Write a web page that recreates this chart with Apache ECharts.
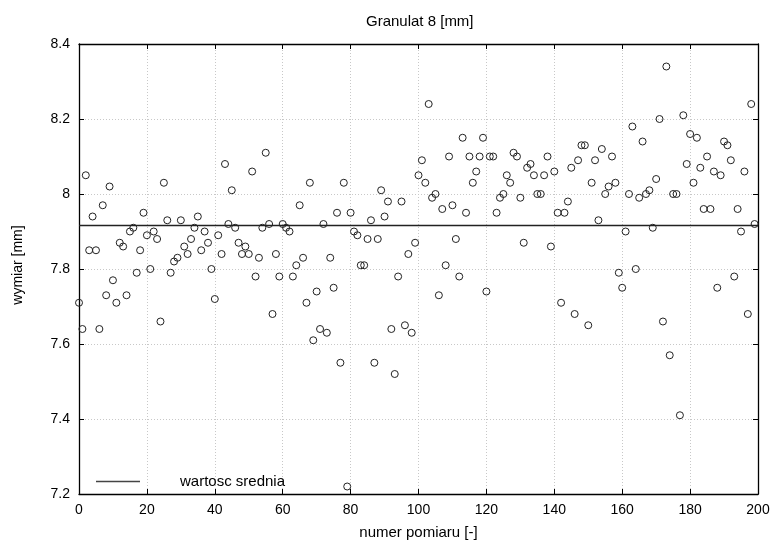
<!DOCTYPE html>
<html>
<head>
<meta charset="utf-8">
<script src="https://cdn.jsdelivr.net/npm/echarts@6/dist/echarts.min.js"></script>
<style>
html,body{margin:0;padding:0;background:#fff;}
#chart{width:774px;height:545px;}
</style>
</head>
<body>
<div id="chart"></div>
<script>
const titleText = 'Granulat 8 [mm]';
const xName = 'numer pomiaru [-]';
const yName = 'wymiar [mm]';
const legendLabel = 'wartosc srednia';
const xTicks = [0, 20, 40, 60, 80, 100, 120, 140, 160, 180, 200];
const yTicks = [7.2, 7.4, 7.6, 7.8, 8.0, 8.2, 8.4];
const meanValue = [7.916];
const values = [
  7.71, 7.64, 8.05, 7.85, 7.94, 7.85, 7.64, 7.97, 7.73, 8.02,
  7.77, 7.71, 7.87, 7.86, 7.73, 7.90, 7.91, 7.79, 7.85, 7.95,
  7.89, 7.80, 7.90, 7.88, 7.66, 8.03, 7.93, 7.79, 7.82, 7.83,
  7.93, 7.86, 7.84, 7.88, 7.91, 7.94, 7.85, 7.90, 7.87, 7.80,
  7.72, 7.89, 7.84, 8.08, 7.92, 8.01, 7.91, 7.87, 7.84, 7.86,
  7.84, 8.06, 7.78, 7.83, 7.91, 8.11, 7.92, 7.68, 7.84, 7.78,
  7.92, 7.91, 7.90, 7.78, 7.81, 7.97, 7.83, 7.71, 8.03, 7.61,
  7.74, 7.64, 7.92, 7.63, 7.83, 7.75, 7.95, 7.55, 8.03, 7.22,
  7.95, 7.90, 7.89, 7.81, 7.81, 7.88, 7.93, 7.55, 7.88, 8.01,
  7.94, 7.98, 7.64, 7.52, 7.78, 7.98, 7.65, 7.84, 7.63, 7.87,
  8.05, 8.09, 8.03, 8.24, 7.99, 8.00, 7.73, 7.96, 7.81, 8.10,
  7.97, 7.88, 7.78, 8.15, 7.95, 8.10, 8.03, 8.06, 8.10, 8.15,
  7.74, 8.10, 8.10, 7.95, 7.99, 8.00, 8.05, 8.03, 8.11, 8.10,
  7.99, 7.87, 8.07, 8.08, 8.05, 8.00, 8.00, 8.05, 8.10, 7.86,
  8.06, 7.95, 7.71, 7.95, 7.98, 8.07, 7.68, 8.09, 8.13, 8.13,
  7.65, 8.03, 8.09, 7.93, 8.12, 8.00, 8.02, 8.10, 8.03, 7.79,
  7.75, 7.90, 8.00, 8.18, 7.80, 7.99, 8.14, 8.00, 8.01, 7.91,
  8.04, 8.20, 7.66, 8.34, 7.57, 8.00, 8.00, 7.41, 8.21, 8.08,
  8.16, 8.03, 8.15, 8.07, 7.96, 8.10, 7.96, 8.06, 7.75, 8.05,
  8.14, 8.13, 8.09, 7.78, 7.96, 7.90, 8.06, 7.68, 8.24, 7.92
];

const FONT = 'Liberation Sans, Arial, Helvetica, sans-serif';
const xMin = xTicks[0], xMax = xTicks[xTicks.length - 1];
const yMin = yTicks[0], yMax = yTicks[yTicks.length - 1];
const pointData = values.map((v, i) => [i, v]);
const meanData = [[xMin, meanValue[0]], [xMax, meanValue[0]]];

const chart = echarts.init(document.getElementById('chart'), null, {renderer: 'canvas'});

const tickStyle = {show: true, inside: true, length: 5, lineStyle: {color: '#000', width: 1}};
const lineStyleAxis = {show: true, onZero: false, lineStyle: {color: '#000', width: 1.3}};
const gridSplit = {show: true, lineStyle: {color: '#c8c8c8', type: [1, 2], width: 1}};

chart.setOption({
  animation: false,
  backgroundColor: '#fff',
  textStyle: {fontFamily: FONT},
  title: {
    text: titleText,
    left: 366, top: 14, padding: 0,
    textStyle: {fontFamily: FONT, fontSize: 15, fontWeight: 'normal', color: '#000'}
  },
  legend: {
    left: 96, top: 474, padding: 0,
    itemWidth: 44, itemHeight: 14, itemGap: 10,
    data: [{name: legendLabel, icon: 'path://M0,0 L44,0 L44,1.3 L0,1.3 Z'}],
    textStyle: {fontFamily: FONT, fontSize: 15, color: '#000', padding: [0, 0, 0, 35]},
    selectedMode: false
  },
  grid: {left: 79, right: 16, top: 44, bottom: 50, containLabel: false},
  xAxis: [{
    type: 'value', min: xMin, max: xMax, interval: 20, position: 'bottom',
    name: xName, nameLocation: 'middle', nameGap: 31,
    nameTextStyle: {fontFamily: FONT, fontSize: 15, color: '#000'},
    axisLine: lineStyleAxis, axisTick: tickStyle,
    axisLabel: {fontFamily: FONT, fontSize: 14, color: '#000', margin: 9},
    splitLine: gridSplit
  }, {
    type: 'value', min: xMin, max: xMax, interval: 20, position: 'top',
    axisLine: lineStyleAxis, axisTick: tickStyle,
    axisLabel: {show: false}, splitLine: {show: false}
  }],
  yAxis: [{
    type: 'value', min: yMin, max: yMax, interval: 0.2, position: 'left',
    name: yName, nameLocation: 'middle', nameGap: 54, nameRotate: 90,
    nameTextStyle: {fontFamily: FONT, fontSize: 14, color: '#000', padding: [0, 0, 0, 8]},
    axisLine: lineStyleAxis, axisTick: tickStyle,
    axisLabel: {fontFamily: FONT, fontSize: 14, color: '#000', margin: 9,
      formatter: v => String(Math.round(v * 10) / 10)},
    splitLine: gridSplit
  }, {
    type: 'value', min: yMin, max: yMax, interval: 0.2, position: 'right',
    axisLine: lineStyleAxis, axisTick: tickStyle,
    axisLabel: {show: false}, splitLine: {show: false}
  }],
  series: [{
    name: legendLabel,
    type: 'line',
    data: meanData,
    showSymbol: false, symbol: 'none',
    lineStyle: {color: '#222', width: 1.3},
    itemStyle: {color: '#444'},
    z: 3
  }, {
    name: 'pomiary',
    type: 'scatter',
    data: pointData,
    symbol: 'circle',
    symbolSize: 7,
    itemStyle: {color: 'rgba(0,0,0,0)', borderColor: '#222', borderWidth: 1, opacity: 1},
    z: 4
  }]
});
</script>
</body>
</html>
